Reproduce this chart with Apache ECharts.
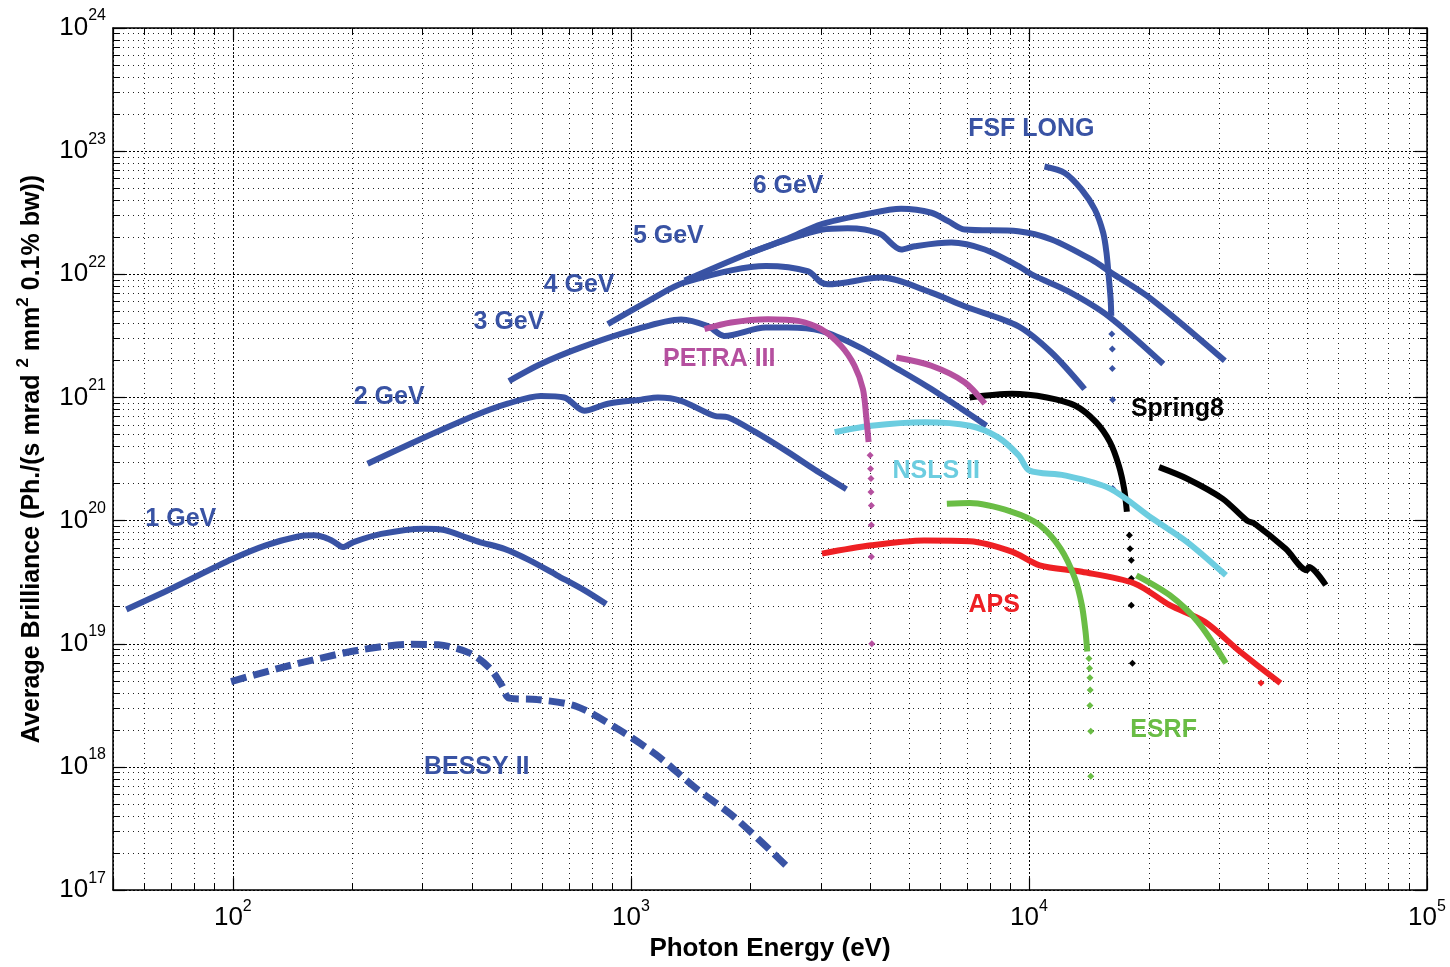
<!DOCTYPE html>
<html>
<head>
<meta charset="utf-8">
<title>Average Brilliance</title>
<script src="https://cdn.jsdelivr.net/npm/echarts@6/dist/echarts.min.js"></script>
<style>
  html, body { margin: 0; padding: 0; background: #fff; }
  #chart { width: 1450px; height: 967px; }
</style>
</head>
<body>
<div id="chart"></div>
<script>
// [photon energy (eV), average brilliance]
const gev1 = [[54, 1.9e19], [70, 2.8e19], [100, 4.9e19], [121, 6.3e19], [145, 7.4e19], [160, 7.6e19], [170, 7.3e19],
  [180, 6.7e19], [189, 6.1e19], [201, 6.7e19], [236, 7.8e19], [301, 8.6e19], [340, 8.4e19],
  [390, 7.2e19], [417, 6.7e19], [481, 5.9e19], [554, 4.8e19], [652, 3.6e19], [767, 2.7e19], [867, 2.1e19]];
const gev2 = [[218, 2.9e20], [297, 4.6e20], [404, 7.1e20], [490, 8.9e20], [594, 1.03e21], [680, 1.0e21],
  [764, 7.8e20], [875, 8.9e20], [1061, 9.6e20], [1169, 1.0e21], [1337, 9.4e20], [1618, 7.1e20],
  [1753, 6.9e20], [2042, 5.3e20], [2483, 3.6e20], [2893, 2.6e20], [3479, 1.8e20]];
const gev3 = [[494, 1.36e21], [594, 1.87e21], [750, 2.55e21], [1000, 3.47e21], [1337, 4.3e21], [1559, 3.8e21],
  [1717, 3.16e21], [2183, 3.7e21], [2478, 3.7e21], [3005, 3.47e21], [3717, 2.6e21], [4685, 1.7e21],
  [5687, 1.17e21], [7820, 5.9e20]];
const gev4 = [[875, 3.94e21], [1100, 6.0e21], [1365, 8.6e21], [2183, 1.17e22], [2779, 1.06e22], [3005, 8.6e21],
  [3126, 8.3e21], [4253, 9.4e21], [5687, 7.1e21], [6892, 5.5e21], [9390, 3.8e21], [11390, 2.32e21], [13800, 1.17e21]];
const gev5 = [[1365, 8.9e21], [1967, 1.47e22], [2478, 1.92e22], [3005, 2.3e22], [3500, 2.37e22], [3864, 2.31e22],
  [4253, 2.11e22], [4775, 1.59e22], [5166, 1.69e22], [6384, 1.81e22], [7746, 1.59e22], [9390, 1.17e22],
  [10330, 9.7e21], [12530, 7.3e21], [15800, 4.6e21], [21750, 1.87e21]];
const gev6 = [[1944, 1.45e22], [2478, 1.95e22], [3005, 2.55e22], [3864, 3.06e22], [4775, 3.4e22], [5687, 3.16e22],
  [6266, 2.7e22], [6892, 2.31e22], [9390, 2.24e22], [11390, 1.92e22], [14340, 1.32e22], [16100, 1.03e22],
  [20300, 6.3e21], [31050, 1.99e21]];
const fsfLong = [[10940, 7.5e22], [12300, 6.65e22], [13560, 4.88e22], [14640, 3.36e22], [15360, 2.18e22],
  [15660, 1.5e22], [15860, 9.7e21], [16040, 6.3e21], [16100, 4.6e21]];
const fsfLongDots = [[16150, 3.27e21], [16200, 2.47e21], [16200, 1.72e21], [16230, 9.6e20], [16230, 1.82e20]];
const petraA = [[1531, 3.59e21], [1786, 4.06e21], [2208, 4.32e21], [2628, 4.19e21], [3005, 3.59e21],
  [3375, 2.62e21], [3646, 1.81e21], [3828, 1.17e21], [3900, 7.1e20], [3955, 4.34e20]];
const petraDots = [[3990, 3.4e20], [4000, 2.64e20], [4010, 2.2e20], [4010, 1.71e20], [4020, 1.33e20],
  [4020, 9.2e19], [4020, 5.1e19], [4030, 1.0e19]];
const petraB = [[4645, 2.11e21], [5687, 1.81e21], [6892, 1.33e21], [7750, 8.9e20]];
const spring8A = [[7097, 1.0e21], [9060, 1.07e21], [11090, 1.0e21], [13050, 8.6e20], [14740, 6.3e20],
  [15980, 4.34e20], [16820, 2.8e20], [17340, 1.82e20], [17620, 1.18e20]];
const spring8Dots = [[17880, 7.6e19], [17950, 5.9e19], [18080, 4.77e19], [18080, 3.39e19], [18080, 2.06e19], [18200, 6.95e18]];
const spring8B = [[21230, 2.72e20], [24980, 2.19e20], [30630, 1.51e20], [35320, 1.0e20], [36800, 9.5e19],
  [44160, 5.9e19], [49890, 3.96e19], [50500, 4.2e19], [55690, 2.99e19]];
const nslsII = [[3251, 5.23e20], [4020, 5.9e20], [5454, 6.3e20], [7097, 5.9e20], [8350, 4.77e20], [9430, 3.38e20],
  [10030, 2.55e20], [12280, 2.33e20], [15980, 1.82e20], [20420, 1.04e20], [24980, 6.7e19], [31250, 3.6e19]];
const aps = [[3020, 5.4e19], [4020, 6.3e19], [5454, 6.9e19], [7097, 6.8e19], [9060, 5.6e19], [10640, 4.34e19],
  [13580, 3.84e19], [18410, 3.09e19], [22580, 2.06e19], [27660, 1.51e19], [33880, 8.65e18], [42840, 4.79e18]];
const apsDots = [[38280, 4.8e18]];
const esrfA = [[6220, 1.37e20], [7097, 1.39e20], [9060, 1.18e20], [10640, 9.2e19], [12020, 5.9e19],
  [13050, 3.39e19], [13580, 2.06e19], [13870, 1.26e19], [14010, 8.65e18]];
const esrfDots = [[14150, 7.6e18], [14200, 6.34e18], [14230, 5.3e18], [14250, 4.22e18], [14230, 3.16e18],
  [14300, 1.95e18], [14300, 8.4e17]];
const esrfB = [[18620, 3.6e19], [22580, 2.48e19], [26550, 1.51e19], [31250, 6.95e18]];
const bessyII = [[99, 4.94e18], [131, 6.34e18], [165, 7.6e18], [208, 8.9e18], [280, 9.9e18], [328, 9.8e18],
  [394, 8.4e18], [442, 6.34e18], [473, 4.64e18], [495, 3.62e18], [581, 3.53e18], [731, 3.1e18],
  [919, 2.07e18], [1156, 1.26e18], [1453, 6.76e17], [1826, 3.87e17], [2460, 1.57e17]];

// curve names and where they are written (energy, brilliance)
const labelNames = ['FSF LONG', '6 GeV', '5 GeV', '4 GeV', '3 GeV', '2 GeV', '1 GeV',
  'PETRA III', 'NSLS II', 'Spring8', 'APS', 'ESRF', 'BESSY II'];
const labelEnergy = [10140, 2483, 1242, 741, 494, 247, 74, 1667, 5848, 23610, 8180, 21790, 410];
const labelBrilliance = [1.52e23, 5.16e22, 2.03e22, 8.15e21, 4.08e21, 1.01e21, 1.02e20,
  2.05e21, 2.54e20, 8.07e20, 2.05e19, 2.0e18, 1.0e18];

const FONT = '"Liberation Sans", Arial, Helvetica, sans-serif';
const BLUE = '#3953a4', MAGENTA = '#b5509f', CYAN = '#6ccde0', RED = '#ee2024', GREEN = '#6abd45', BLACK = '#000000';
const labelColors = [BLUE, BLUE, BLUE, BLUE, BLUE, BLUE, BLUE, MAGENTA, CYAN, BLACK, RED, GREEN, BLUE];

const chart = echarts.init(document.getElementById('chart'));

function line(data, color, z, dashed) {
  return {
    type: 'line', data: data, symbol: 'none', showSymbol: false, z: z, smooth: 0.3,
    lineStyle: { color: color, width: dashed ? 7 : 6, type: dashed ? [16, 7] : 'solid' },
    silent: true
  };
}
function dots(data, color, z) {
  return {
    type: 'scatter', data: data, symbol: 'diamond', symbolSize: 7, z: z,
    itemStyle: { color: color, opacity: 1 }, silent: true
  };
}
function pow10(v) {
  const e = Math.log10(v);
  const r = Math.round(e);
  if (Math.abs(e - r) > 1e-6) return '';
  return '{b|10}{e|' + r + '}';
}
const tickRich = {
  b: { fontSize: 26, lineHeight: 40, color: '#000', fontFamily: FONT },
  e: { fontSize: 16, lineHeight: 16, verticalAlign: 'top', color: '#000', fontFamily: FONT }
};

function logAxis(min, max, pos, main) {
  return {
    type: 'log', logBase: 10, min: min, max: max, position: pos,
    axisLine: { show: true, onZero: false, lineStyle: { color: '#000', width: 1.5 } },
    axisTick: { show: true, inside: true, length: 12, lineStyle: { color: '#000', width: 1.2 } },
    minorTick: { show: true, splitNumber: 9, length: 7, lineStyle: { color: '#000', width: 1 } },
    splitLine: { show: main, lineStyle: { color: '#000', type: [2, 2], width: 1 } },
    minorSplitLine: { show: main, lineStyle: { color: '#222', type: [1, 4], width: 1 } },
    axisLabel: { show: main, formatter: pow10, rich: tickRich, margin: 8 }
  };
}

const xMain = logAxis(50, 100000, 'bottom', true);
xMain.name = 'Photon Energy (eV)';
xMain.nameLocation = 'middle';
xMain.nameGap = 45;
xMain.nameTextStyle = { fontSize: 26, fontWeight: 'bold', color: '#000', fontFamily: FONT };

const yMain = logAxis(1e17, 1e24, 'left', true);
yMain.axisLabel.margin = 7;
yMain.name = '{t|Average Brilliance (Ph./(s mrad }{s|2}{t| mm}{s|2}{t| 0.1% bw))}';
yMain.nameLocation = 'middle';
yMain.nameGap = 64;
yMain.nameTextStyle = {
  rich: {
    t: { fontSize: 25, fontWeight: 'bold', color: '#000', fontFamily: FONT, lineHeight: 34 },
    s: { fontSize: 17, fontWeight: 'bold', color: '#000', fontFamily: FONT, lineHeight: 17, verticalAlign: 'top' }
  }
};

const option = {
  animation: false,
  backgroundColor: '#fff',
  grid: { left: 113, right: 23, top: 28, bottom: 75 },
  xAxis: [xMain, logAxis(50, 100000, 'top', false)],
  yAxis: [yMain, logAxis(1e17, 1e24, 'right', false)],
  series: [
    line(gev1, BLUE, 2), line(gev2, BLUE, 2), line(gev3, BLUE, 2), line(gev4, BLUE, 2),
    line(gev5, BLUE, 2), line(gev6, BLUE, 2), line(fsfLong, BLUE, 2), dots(fsfLongDots, BLUE, 2),
    line(bessyII, BLUE, 2, true),
    line(spring8A, BLACK, 3), line(spring8B, BLACK, 3), dots(spring8Dots, BLACK, 3),
    line(nslsII, CYAN, 4),
    line(aps, RED, 5), dots(apsDots, RED, 5),
    line(esrfA, GREEN, 6), line(esrfB, GREEN, 6), dots(esrfDots, GREEN, 6),
    line(petraA, MAGENTA, 7), line(petraB, MAGENTA, 7), dots(petraDots, MAGENTA, 7),
    {
      type: 'scatter', z: 10, silent: true, symbolSize: 1,
      itemStyle: { color: 'rgba(0,0,0,0)', opacity: 1 },
      data: labelNames.map((n, i) => ({
        name: n, value: [labelEnergy[i], labelBrilliance[i]],
        label: { color: labelColors[i] }
      })),
      label: {
        show: true, position: 'inside', formatter: '{b}',
        fontSize: 25, fontWeight: 'bold', fontFamily: FONT
      }
    }
  ]
};

chart.setOption(option);
</script>
</body>
</html>
